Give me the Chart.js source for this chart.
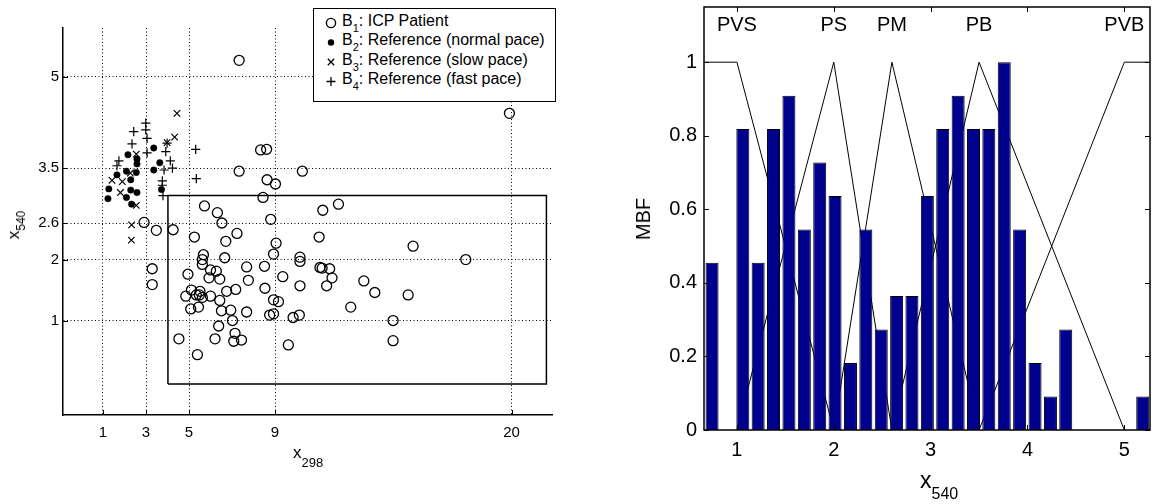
<!DOCTYPE html>
<html><head><meta charset="utf-8">
<script src="https://cdn.jsdelivr.net/npm/chart.js@4.4.1/dist/chart.umd.min.js"></script>
<style>
html,body{margin:0;padding:0;background:#fff;}
#wrap{position:relative;width:1156px;height:504px;overflow:hidden;font-family:"Liberation Sans",Arial,Helvetica,sans-serif;color:#000;}
canvas{position:absolute;top:0;}
.t{position:absolute;white-space:nowrap;line-height:1;}
.t sub{line-height:1;}
.rot{position:absolute;white-space:nowrap;line-height:1;transform:translate(-50%,-50%) rotate(-90deg);}
</style></head><body>
<div id="wrap">
<canvas id="cl" width="580" height="504" style="left:0"></canvas>
<canvas id="cr" width="556" height="504" style="left:600px"></canvas>

<!-- legend of left plot -->
<div style="position:absolute;left:313px;top:8px;width:243px;height:94px;border:1.5px solid #000;background:#fff;box-sizing:border-box;"></div>
<svg style="position:absolute;left:0;top:0" width="600" height="120">
  <circle cx="331" cy="23" r="4.6" fill="none" stroke="#000" stroke-width="1.4"/>
  <circle cx="331" cy="42.5" r="3.2" fill="#000"/>
  <path d="M327.8 58.8 L334.2 65.2 M334.2 58.8 L327.8 65.2" stroke="#000" stroke-width="1.3"/>
  <path d="M326.5 81.5 L335.5 81.5 M331 77 L331 86" stroke="#000" stroke-width="1.3"/>
</svg>
<div class="t" style="left:342px;top:12.5px;font-size:16px">B<sub style="font-size:11px;vertical-align:-6px">1</sub>: ICP Patient</div>
<div class="t" style="left:342px;top:32px;font-size:16px">B<sub style="font-size:11px;vertical-align:-6px">2</sub>: Reference (normal pace)</div>
<div class="t" style="left:342px;top:51.5px;font-size:16px">B<sub style="font-size:11px;vertical-align:-6px">3</sub>: Reference (slow pace)</div>
<div class="t" style="left:342px;top:71px;font-size:16px">B<sub style="font-size:11px;vertical-align:-6px">4</sub>: Reference (fast pace)</div>

<!-- axis titles -->
<div class="t" style="left:293px;top:443.6px;font-size:17px">x<sub style="font-size:13px;vertical-align:-9px">298</sub></div>
<div class="rot" style="left:16px;top:225px;font-size:17px">x<sub style="font-size:12px;vertical-align:-6px">540</sub></div>
<div class="t" style="left:920px;top:468.5px;font-size:23px">x<sub style="font-size:16px;vertical-align:-11px">540</sub></div>
<div class="rot" style="left:643px;top:218.5px;font-size:20px">MBF</div>
</div>

<script>
// ---------------- data: left scatter ----------------
const xTicksLeft = [1, 3, 5, 9, 20];
const yTicksLeft = [1, 2, 2.6, 3.5, 5];

const b1X = [7.33,10.27,8.63,9.02,8.44,5.72,6.32,6.53,7.23,8.80,11.22,11.95,4.26,5.25,6.71,9.05,11.05,5.67,6.66,8.93,
             10.16,10.16,5.62,5.62,7.68,8.51,11.09,11.19,11.54,6.00,6.27,4.95,5.93,6.43,7.76,9.36,11.65,13.13,13.64,10.16,
             11.40,8.53,7.17,6.75,5.11,5.51,4.85,5.34,5.48,5.62,6.00,6.43,8.93,9.16,5.08,5.44,6.51,6.94,7.68,7.02,
             8.75,8.93,9.84,10.13,12.52,6.38,4.53,6.21,7.14,7.08,7.44,5.39,9.62,19.90,15.42,17.87,15.19,14.49,14.49,7.33,
             8.33,8.61,2.91,3.48,3.29,3.29];
const b1Y = [3.45,3.45,3.31,3.24,3.02,2.88,2.77,2.60,2.43,2.66,2.81,2.91,2.49,2.37,2.30,2.27,2.37,2.08,2.03,2.09,
             2.04,1.97,2.00,1.92,1.88,1.89,1.87,1.86,1.85,1.83,1.81,1.76,1.70,1.68,1.66,1.72,1.70,1.65,1.46,1.57,
             1.57,1.53,1.51,1.48,1.50,1.48,1.40,1.42,1.42,1.38,1.40,1.33,1.34,1.31,1.19,1.22,1.16,1.17,1.14,1.00,
             1.09,1.11,1.05,1.09,1.22,0.91,0.70,0.70,0.79,0.66,0.68,0.44,0.60,4.40,2.22,2.00,1.42,1.00,0.67,5.27,
             3.80,3.81,2.61,2.48,1.85,1.59];

const b2X = [3.36,2.16,2.58,2.58,3.64,3.36,2.09,2.55,1.65,2.29,1.27,2.29,2.58,1.23,2.09,2.33,3.72];
const b2Y = [3.83,3.72,3.65,3.57,3.59,3.47,3.45,3.43,3.39,3.31,3.16,3.14,3.10,3.00,3.02,2.91,3.15];

const b3X = [4.44,4.33,3.98,2.55,2.27,1.42,1.90,1.81,2.55,2.33,2.32];
const b3Y = [4.40,4.01,3.92,3.73,3.42,3.30,3.28,3.10,2.89,2.57,2.32];

const b4X = [2.99,2.99,2.43,3.05,2.35,3.05,1.74,1.65,3.92,4.13,4.23,3.84,3.76,3.76,3.79,5.31,5.34,3.98];
const b4Y = [4.24,4.13,4.10,3.99,3.90,3.75,3.62,3.54,3.77,3.62,3.50,3.47,3.29,3.22,3.05,3.81,3.33,3.91];

const boxX = [4.02, 21.62, 21.62, 4.02, 4.02];
const boxY = [-0.04, -0.04, 3.05, 3.05, -0.04];

// ---------------- data: right histogram + membership functions ----------------
const binCenters = [0.743,0.902,1.061,1.219,1.378,1.537,1.696,1.855,2.013,2.172,2.331,2.490,2.649,2.807,2.966,
                    3.125,3.284,3.443,3.601,3.760,3.919,4.078,4.237,4.395,4.554,4.713,4.872,5.031,5.190];
const binHeights = [0.455,0,0.818,0.455,0.818,0.909,0.545,0.727,0.636,0.182,0.545,0.273,0.364,0.364,0.636,
                    0.818,0.909,0.818,0.818,1.0,0.545,0.182,0.091,0.273,0,0,0,0,0.091];
const xTicksRight = [1, 2, 3, 4, 5];
const yTicksRight = [0, 0.2, 0.4, 0.6, 0.8, 1];
const mfNames = ['PVS', 'PS', 'PM', 'PB', 'PVB'];
const mfPeaks = [1, 2, 2.6, 3.5, 5];
const pvsX = [0.66, 1, 2],    pvsY = [1, 1, 0];
const psX  = [1, 2, 2.6],     psY  = [0, 1, 0];
const pmX  = [2, 2.6, 3.5],   pmY  = [0, 1, 0];
const pbX  = [2.6, 3.5, 5],   pbY  = [0, 1, 0];
const pvbX = [3.5, 5, 5.265], pvbY = [0, 1, 1];

// ---------------- helpers ----------------
const pts = (xs, ys) => xs.map((x, i) => ({x: x, y: ys[i]}));
const FONT = '"Liberation Sans", Arial, Helvetica, sans-serif';
Chart.defaults.font.family = FONT;
Chart.defaults.color = '#000';

const framePlugin = {
  id: 'frame',
  afterDraw(chart, args, o) {
    const ctx = chart.ctx, a = chart.chartArea;
    const xs = chart.scales.x, ys = chart.scales.y;
    const L = 5;
    ctx.save();
    ctx.setLineDash([]);
    ctx.strokeStyle = '#000';
    ctx.lineWidth = 1;
    ctx.beginPath();
    xs.ticks.forEach(t => {
      const p = Math.round(xs.getPixelForValue(t.value)) + 0.5;
      ctx.moveTo(p, a.bottom); ctx.lineTo(p, a.bottom - L);
      if (o.box) { ctx.moveTo(p, a.top); ctx.lineTo(p, a.top + L); }
    });
    ys.ticks.forEach(t => {
      const p = Math.round(ys.getPixelForValue(t.value)) + 0.5;
      ctx.moveTo(a.left, p); ctx.lineTo(a.left + L, p);
      if (o.box) { ctx.moveTo(a.right, p); ctx.lineTo(a.right - L, p); }
    });
    ctx.stroke();
    if (o.box) {
      ctx.lineWidth = 1.5;
      ctx.strokeRect(a.left, a.top, a.right - a.left, a.bottom - a.top);
    }
    // membership-function names, placed at their peaks through the x scale
    if (o.names) {
      ctx.font = '20px ' + FONT;
      ctx.fillStyle = '#000';
      ctx.textAlign = 'center';
      ctx.textBaseline = 'middle';
      o.names.forEach((n, i) => ctx.fillText(n, xs.getPixelForValue(o.at[i]), o.y));
    }
    ctx.restore();
  }
};

function fixedSize(w, h) {
  return s => {
    if (w !== null) s.width = w;
    if (h !== null) s.height = h;
    s.paddingTop = 0; s.paddingBottom = 0; s.paddingLeft = 0; s.paddingRight = 0;
  };
}
const setTicks = arr => s => { s.ticks = arr.map(v => ({value: v})); };

// ---------------- left chart ----------------
new Chart(document.getElementById('cl'), {
  type: 'scatter',
  data: {
    datasets: [
      {label: 'B1', data: pts(b1X, b1Y), pointStyle: 'circle', pointRadius: 5, borderWidth: 1.3,
       borderColor: '#000', backgroundColor: 'rgba(0,0,0,0)'},
      {label: 'B2', data: pts(b2X, b2Y), pointStyle: 'circle', pointRadius: 3.2, borderWidth: 0.5,
       borderColor: '#000', backgroundColor: '#000'},
      {label: 'B3', data: pts(b3X, b3Y), pointStyle: 'crossRot', pointRadius: 4.6, borderWidth: 1.2,
       borderColor: '#000', backgroundColor: '#000'},
      {label: 'B4', data: pts(b4X, b4Y), pointStyle: 'cross', pointRadius: 4.6, borderWidth: 1.2,
       borderColor: '#000', backgroundColor: '#000'},
      {type: 'line', label: 'box', data: pts(boxX, boxY), showLine: true, pointRadius: 0,
       borderColor: '#000', borderWidth: 1.5, fill: false, tension: 0}
    ]
  },
  options: {
    responsive: false, animation: false, devicePixelRatio: 1,
    layout: {padding: {left: 0, top: 28, right: 28, bottom: 0}},
    plugins: {legend: {display: false}, tooltip: {enabled: false}, frame: {box: false}},
    scales: {
      x: {type: 'linear', min: -0.86, max: 21.88,
          afterBuildTicks: setTicks(xTicksLeft), afterFit: fixedSize(null, 89),
          grid: {display: true, color: '#000', lineWidth: 1, drawTicks: false},
          border: {display: true, color: '#000', width: 1.5, dash: [1, 2.5]},
          ticks: {padding: 8.5, font: {size: 15}, color: '#000', autoSkip: false, maxRotation: 0,
                  callback: v => String(v)}},
      y: {type: 'linear', min: -0.55, max: 5.8,
          afterBuildTicks: setTicks(yTicksLeft), afterFit: fixedSize(63, null),
          grid: {display: true, color: '#000', lineWidth: 1, drawTicks: false},
          border: {display: true, color: '#000', width: 1.5, dash: [1, 2.5]},
          ticks: {padding: 4, font: {size: 15}, color: '#000', autoSkip: false,
                  callback: v => String(v)}}
    }
  },
  plugins: [framePlugin]
});

// ---------------- right chart ----------------
const mfStyle = {type: 'line', pointRadius: 0, borderColor: '#000', borderWidth: 1, fill: false,
                 tension: 0, xAxisID: 'x', yAxisID: 'y'};
new Chart(document.getElementById('cr'), {
  type: 'bar',
  data: {
    datasets: [
      {type: 'bar', label: 'hist', data: pts(binCenters, binHeights), backgroundColor: '#00008F',
       borderColor: '#000', borderWidth: 1, barPercentage: 0.85, categoryPercentage: 1.0,
       xAxisID: 'x', yAxisID: 'y'},
      Object.assign({label: 'PVS', data: pts(pvsX, pvsY)}, mfStyle),
      Object.assign({label: 'PS', data: pts(psX, psY)}, mfStyle),
      Object.assign({label: 'PM', data: pts(pmX, pmY)}, mfStyle),
      Object.assign({label: 'PB', data: pts(pbX, pbY)}, mfStyle),
      Object.assign({label: 'PVB', data: pts(pvbX, pvbY)}, mfStyle)
    ]
  },
  options: {
    responsive: false, animation: false, devicePixelRatio: 1,
    layout: {padding: {left: 0, top: 7, right: 6, bottom: 0}},
    plugins: {legend: {display: false}, tooltip: {enabled: false},
              frame: {box: true, names: mfNames, at: mfPeaks, y: 25.5}},
    scales: {
      x: {type: 'linear', position: 'bottom', min: 0.66, max: 5.265, offset: false,
          afterBuildTicks: setTicks(xTicksRight), afterFit: fixedSize(null, 74),
          grid: {display: false, drawTicks: false, offset: false}, border: {display: false},
          ticks: {padding: 8, font: {size: 20}, color: '#000', autoSkip: false, maxRotation: 0,
                  callback: v => String(v)}},
      y: {type: 'linear', min: 0, max: 1.15,
          afterBuildTicks: setTicks(yTicksRight), afterFit: fixedSize(104, null),
          grid: {display: false, drawTicks: false}, border: {display: false},
          ticks: {padding: 7, font: {size: 20}, color: '#000', autoSkip: false,
                  callback: v => String(v)}}
    }
  },
  plugins: [framePlugin]
});
</script>
</body></html>
